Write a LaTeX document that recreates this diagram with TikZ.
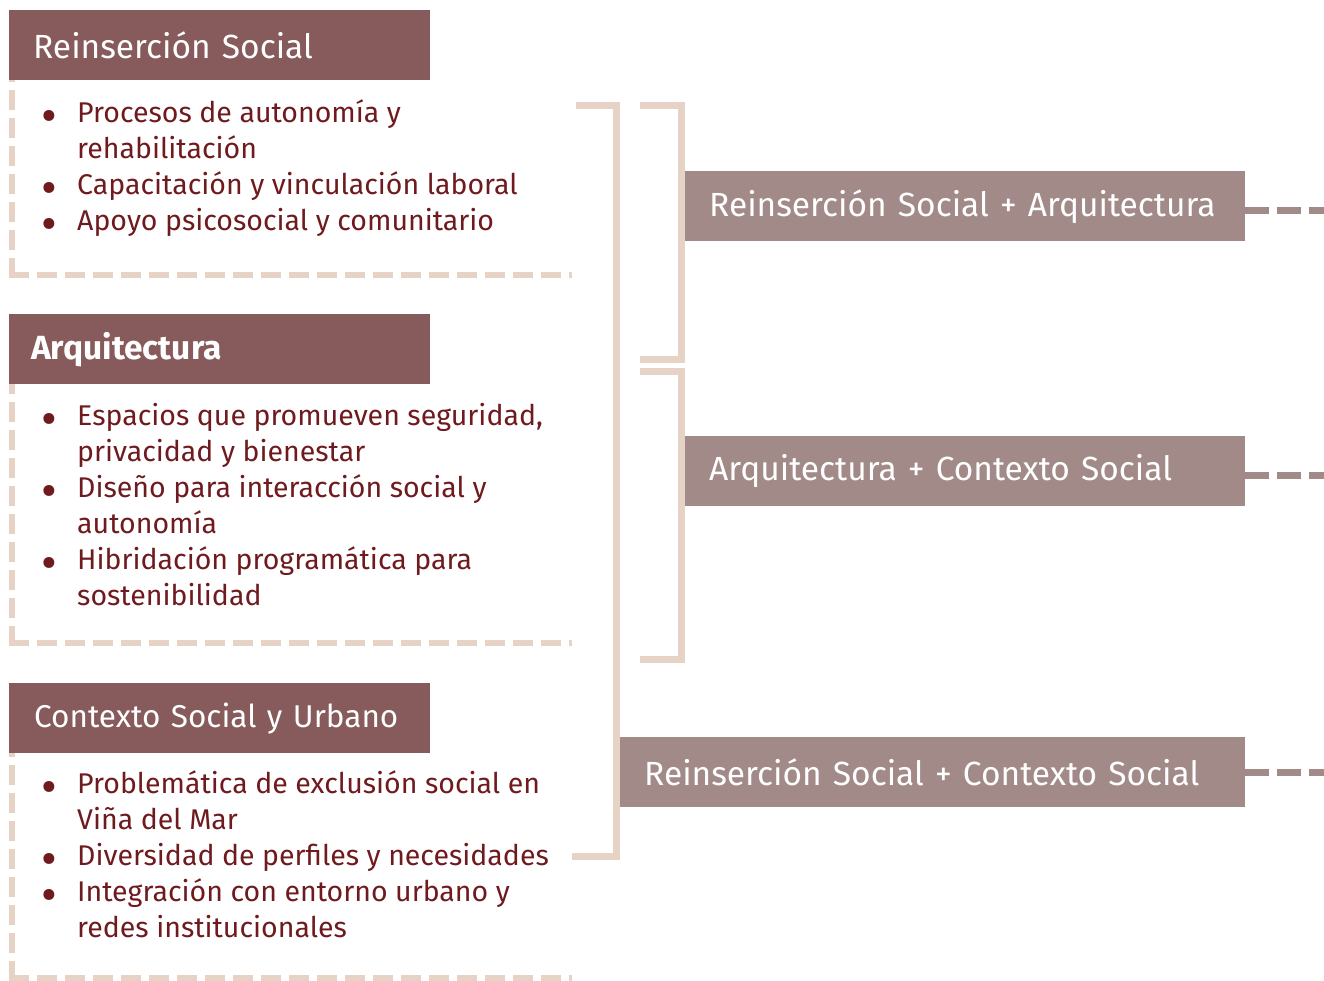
\documentclass[tikz,border=0pt]{standalone}
\usepackage{fontspec}
\setmainfont{Fira Sans}
\definecolor{hdrcol}{HTML}{875A5B}
\definecolor{boxcol}{HTML}{A28A89}
\definecolor{beige}{HTML}{E6D3C5}
\definecolor{txtcol}{HTML}{6E1A1E}
\newcommand{\bul}{\llap{\smash{\raisebox{-10.5pt}{\scalebox{1.7}{\textbullet}}}\hspace{20pt}}}
\begin{document}
\begin{tikzpicture}[x=1pt,y=-1pt,
  hdr/.style={fill=hdrcol, text=white, anchor=north west, minimum height=70pt,
    inner ysep=0pt, inner xsep=0pt, text width=421pt, align=left,
    font=\fontsize{33.5}{38}\selectfont},
  rbox/.style={fill=boxcol, text=white, anchor=north west, minimum height=70pt,
    inner ysep=0pt, inner xsep=24pt, align=left,
    font=\fontsize{33.5}{38}\selectfont},
  items/.style={text=txtcol, anchor=base west, inner sep=0pt, align=left,
    font=\fontsize{28.5}{36}\selectfont},
  dashln/.style={draw=beige, line width=6pt, dash pattern=on 20pt off 8pt},
  brk/.style={draw=beige, line width=7pt, line join=miter},
  rdash/.style={draw=boxcol, line width=7pt, dash pattern=on 24pt off 8pt}]
\useasboundingbox (0,0) rectangle (1324,980);

% left column headers
\node[hdr] (h1) at (9,10) {\hspace*{24pt}Reinserción Social};
\node[hdr] (h2) at (9,314) {\hspace*{22pt}\bfseries Arquitectura};
\node[hdr, font=\fontsize{31.5}{38}\selectfont] (h3) at (9,683) {\hspace*{25pt}Contexto Social y Urbano};

% dashed frames
\draw[dashln] (12,278) -- (12,80);
\draw[dashln] (9,275) -- (572,275);
\draw[dashln] (12,646) -- (12,384);
\draw[dashln] (9,643) -- (572,643);
\draw[dashln] (12,981) -- (12,753);
\draw[dashln] (9,978) -- (572,978);

% item lists (anchored at the baseline of the last line)
\node[items] (l1) at (77,230) {\bul Procesos de autonomía y\\rehabilitación\\\bul Capacitación y vinculación laboral\\\bul Apoyo psicosocial y comunitario};
\node[items] (l2) at (77,605) {\bul Espacios que promueven seguridad,\\privacidad y bienestar\\\bul Diseño para interacción social y\\autonomía\\\bul Hibridación programática para\\sostenibilidad};
\node[items] (l3) at (77,937) {\bul Problemática de exclusión social en\\Viña del Mar\\\bul Diversidad de perfiles y necesidades\\\bul Integración con entorno urbano y\\redes institucionales};

% brackets
\draw[brk] (576,105.5) -- (616,105.5) -- (616,856.5) -- (572,856.5);
\draw[brk] (640,105.5) -- (681,105.5) -- (681,359) -- (640,359);
\draw[brk] (640,371) -- (681,371) -- (681,659) -- (640,659);

% right boxes
\node[rbox, minimum width=560pt, text width=512pt] (ra) at (685,171) {Reinserción Social + Arquitectura};
\node[rbox, minimum width=560pt, text width=512pt] (rb) at (685,436) {Arquitectura + Contexto Social};
\node[rbox, minimum width=625pt, text width=577pt] (rc) at (620,737) {Reinserción Social + Contexto Social};

% dashed outgoing connectors
\coordinate (ea) at (1324,210);
\coordinate (eb) at (1324,475);
\coordinate (ec) at (1324,772);
\draw[rdash] (ra.east |- ea) -- (ea);
\draw[rdash] (rb.east |- eb) -- (eb);
\draw[rdash] (rc.east |- ec) -- (ec);
\end{tikzpicture}
\end{document}
